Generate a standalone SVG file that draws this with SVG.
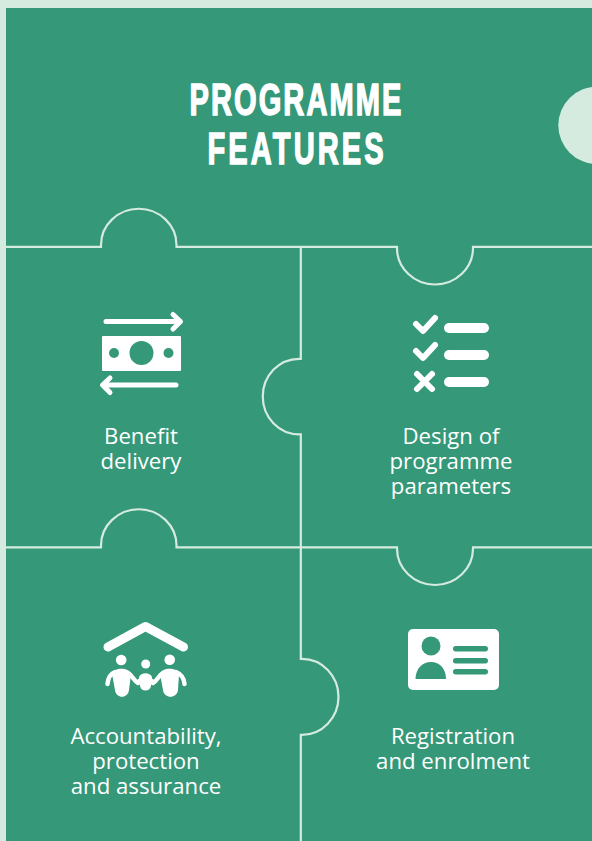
<svg xmlns="http://www.w3.org/2000/svg" width="592" height="841" viewBox="0 0 592 841">
<style>
.bg{fill:#359879}
.pale{fill:#d5ebe0}
.line{fill:none;stroke:#d5ebe0;stroke-width:2.2}
.label{font-family:"Open Sans",sans-serif;font-size:22.2px;fill:#fff;text-anchor:middle}
.title{font-family:"Liberation Sans",sans-serif;font-weight:700;font-size:44px;fill:#fff;stroke:#fff;stroke-width:1.500}
.s{fill:none;stroke:#fff;stroke-linecap:round;stroke-linejoin:round}
.w{fill:#fff}
.g{fill:#359879}
</style>
<rect class="pale" width="592" height="841"/>
<rect class="bg" x="6" y="8" width="586" height="833"/>
<circle class="pale" cx="597" cy="125.300" r="38.700"/>
<g id="connectors">
<path class="line" d="M6 246.800H101V245A37.500 36 0 0 1 176.500 245V246.800H397V248A38 36.500 0 0 0 473 248V246.800H592"/>
<path class="line" d="M6 547.300H101V545.500A37.500 36 0 0 1 176.500 545.500V547.300H397V548.500A38 36.500 0 0 0 473 548.500V547.300H592"/>
<path class="line" d="M300.800 246.800V358.800H299A36 37.500 0 0 0 299 434.300H300.800V658.800H302A36.500 38 0 0 1 302 734.800H300.800V841"/>
</g>
<g id="title">
<text class="title" transform="translate(189.500 114.500) scale(.66 1)" textLength="321" lengthAdjust="spacing">PROGRAMME</text>
<text class="title" transform="translate(207.500 164) scale(.66 1)" textLength="267" lengthAdjust="spacing">FEATURES</text>
</g>
<g id="benefit-delivery">
<path class="s" stroke-width="5" d="M106 321.500H179M173 314.500L180.500 321.500L173 329"/>
<path class="s" stroke-width="5" d="M176 385H103M110 378L102.500 385L110 392.500"/>
<rect class="w" x="102" y="336" width="79" height="35" rx="1"/>
<circle class="g" cx="141.500" cy="353" r="12"/>
<circle class="g" cx="114" cy="353" r="5"/>
<circle class="g" cx="168.500" cy="353" r="5"/>
<text class="label" x="141" y="444">Benefit</text>
<text class="label" x="141" y="469">delivery</text>
</g>
<g id="design-of-programme-parameters">
<path class="s" stroke-width="6" d="M416 324L423 331L435 318"/>
<path class="s" stroke-width="6" d="M416 351L423 358L435 345"/>
<path class="s" stroke-width="6" d="M417 374L432 389M432 374L417 389"/>
<rect class="w" x="444" y="323" width="45" height="10" rx="5"/>
<rect class="w" x="444" y="350" width="45" height="10" rx="5"/>
<rect class="w" x="444" y="377" width="45" height="10" rx="5"/>
<text class="label" x="451" y="444">Design of</text>
<text class="label" x="451" y="469">programme</text>
<text class="label" x="451" y="494">parameters</text>
</g>
<g id="accountability-protection-assurance">
<path class="s" stroke-width="9" d="M108 647L145.500 626.500L183.500 647"/>
<circle class="w" cx="121.200" cy="660" r="5.300"/>
<circle class="w" cx="145.700" cy="664" r="4.500"/>
<circle class="w" cx="169.700" cy="659.700" r="5.300"/>
<path class="w" d="M112 674C114 667 129 667 131 674L129 690C128 699 116 699 115 690Z"/>
<path class="w" d="M160 674C162 667 177 667 179 674L178 690C177 699 164 699 163 690Z"/>
<path class="w" d="M139 677C141 672 150 672 152 677L151 686C150 692 141 692 140 686Z"/>
<path class="s" stroke-width="4.500" d="M107.500 684C108 678 110 674 115 672M128 673C132 675 134 681 138 683C141 677 150 677 153 683C157 681 159 675 163 673M176 672C181 674 184 678 184.500 684"/>
<text class="label" x="146" y="744">Accountability,</text>
<text class="label" x="146" y="769">protection</text>
<text class="label" x="146" y="794">and assurance</text>
</g>
<g id="registration-and-enrolment">
<rect class="w" x="408" y="629" width="91" height="61" rx="5"/>
<circle class="g" cx="431" cy="646" r="9.500"/>
<path class="g" d="M415.500 679C415.500 669 422 662 431 662S446 669 446 679Z"/>
<rect class="g" x="453" y="646" width="35" height="5.500" rx="2.700"/>
<rect class="g" x="453" y="658" width="35" height="5.500" rx="2.700"/>
<rect class="g" x="453" y="669" width="35" height="5.500" rx="2.700"/>
<text class="label" x="453" y="744">Registration</text>
<text class="label" x="453" y="769">and enrolment</text>
</g>
</svg>
